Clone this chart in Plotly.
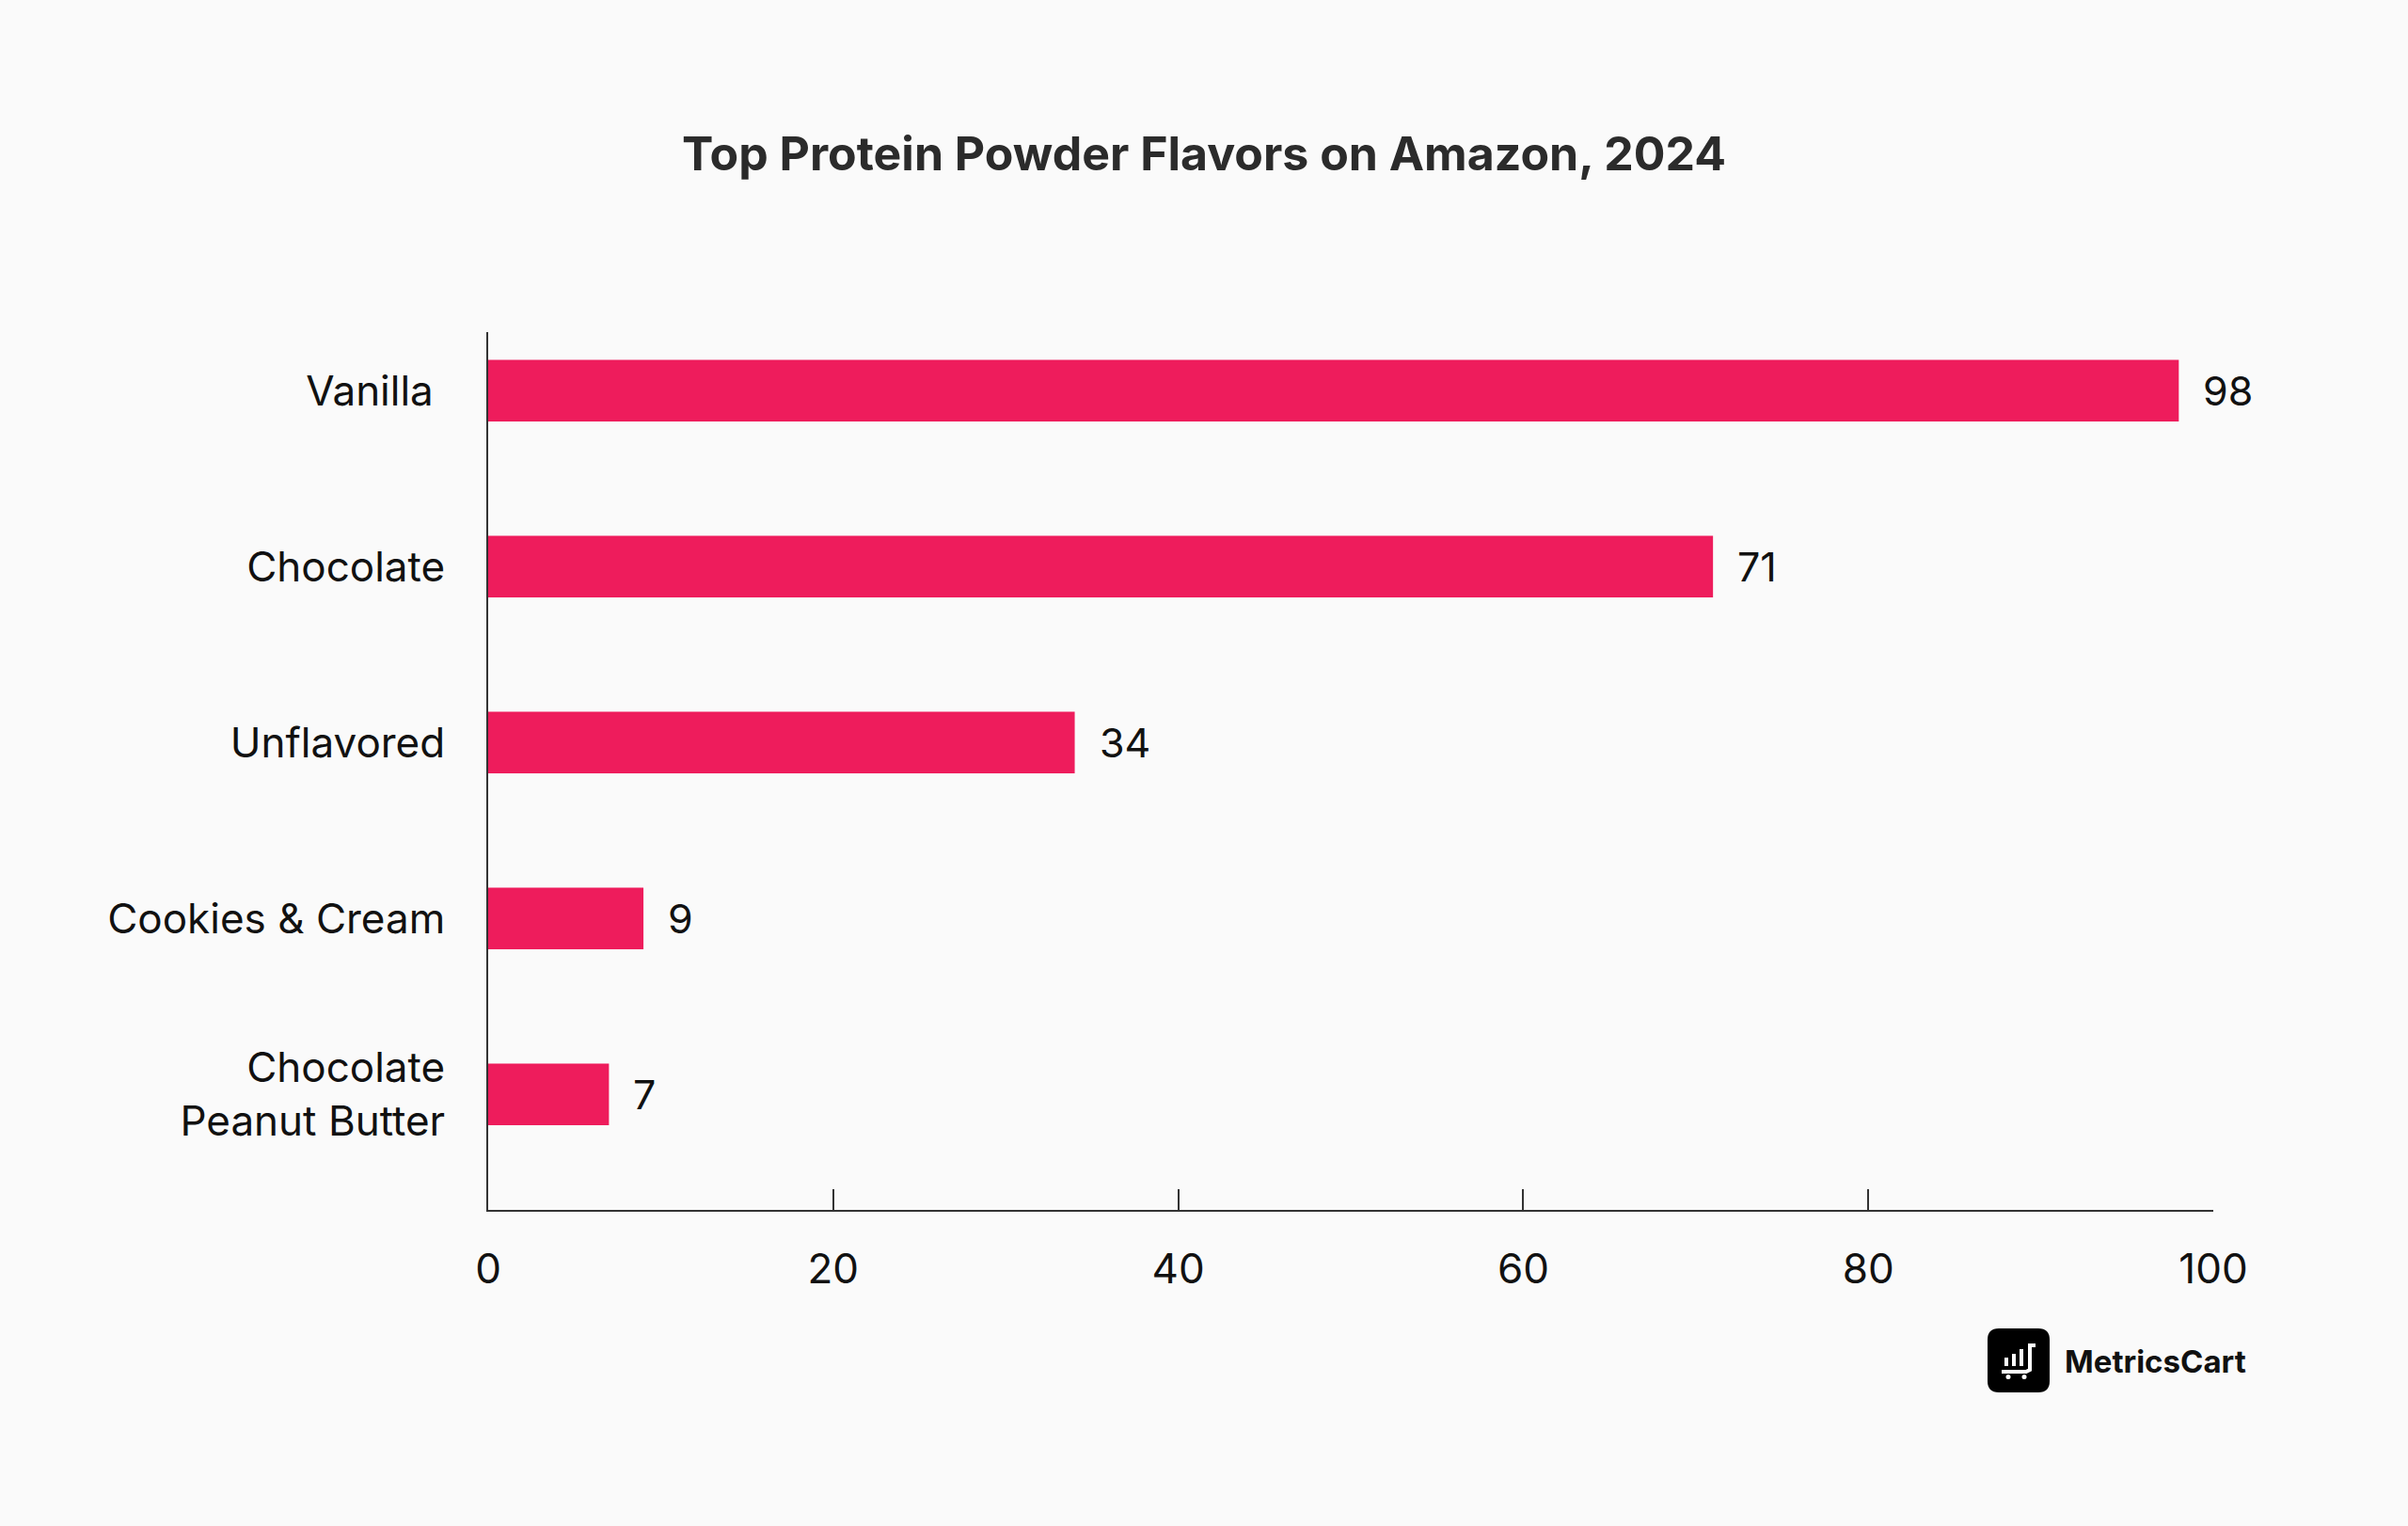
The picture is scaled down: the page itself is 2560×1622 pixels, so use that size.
import plotly.graph_objects as go

categories = ["Vanilla ", "Chocolate", "Unflavored", "Cookies & Cream", "Chocolate<br>Peanut Butter"]
values = [98, 71, 34, 9, 7]
x_ticks = [0, 20, 40, 60, 80, 100]

W, H = 2560, 1622
L, R, T, B = 519, 207, 353, 336
PW, PH = W - L - R, H - T - B

def px(x):
    return (x - L) / PW

def py(y):
    return (H - B - y) / PH

BAR = "#EE1C5C"
FONT = "Inter"

fig = go.Figure()
fig.add_trace(go.Bar(
    x=values, y=categories, orientation="h",
    marker=dict(color=BAR, line=dict(width=0)),
    width=0.35, hoverinfo="skip",
))

for v, c in zip(values, categories):
    fig.add_annotation(x=v, y=c, text=str(v), showarrow=False,
                       xanchor="left", yanchor="middle", xshift=24,
                       font=dict(family=FONT, size=43, color="#111111"))

shapes = []
# logo box
shapes.append(dict(type="path", xref="paper", yref="paper",
    path="M {x0},{y0} L {x1},{y0} Q {x2},{y0} {x2},{y3} L {x2},{y4} Q {x2},{y5} {x1},{y5} L {x0},{y5} Q {xa},{y5} {xa},{y4} L {xa},{y3} Q {xa},{y0} {x0},{y0} Z".format(
        x0=px(2125), x1=px(2167), x2=px(2179), xa=px(2113),
        y0=py(1412), y3=py(1424), y4=py(1468), y5=py(1480)),
    fillcolor="#000000", line=dict(width=0)))
# icon bars
for bx, top in [(2133, 1443), (2141, 1439), (2149, 1434)]:
    shapes.append(dict(type="line", xref="paper", yref="paper",
        x0=px(bx), x1=px(bx), y0=py(1452), y1=py(top),
        line=dict(color="white", width=4)))
# handle and base
shapes.append(dict(type="path", xref="paper", yref="paper",
    path="M {a},{b} L {c},{b} L {c},{d} L {e},{f} L {g},{f}".format(
        a=px(2164), b=py(1430), c=px(2158), d=py(1456), e=px(2154), f=py(1458), g=px(2128)),
    line=dict(color="white", width=4)))
for wx in [2135, 2152]:
    shapes.append(dict(type="circle", xref="paper", yref="paper",
        x0=px(wx - 2.5), x1=px(wx + 2.5), y0=py(1461), y1=py(1466),
        fillcolor="white", line=dict(width=0)))

fig.add_annotation(xref="paper", yref="paper", x=px(2193), y=py(1447),
                   text="<b>MetricsCart</b>", showarrow=False, xanchor="left", yanchor="middle",
                   font=dict(family=FONT, size=33, color="#111111"))

fig.update_layout(
    width=W, height=H,
    paper_bgcolor="#FAFAFA", plot_bgcolor="#FAFAFA",
    margin=dict(l=L, r=R, t=T, b=B, autoexpand=False),
    showlegend=False,
    shapes=shapes,
    title=dict(text="<b>Top Protein Powder Flavors on Amazon, 2024</b>",
               x=0.5, xanchor="center", y=1 - 163 / H, yanchor="middle",
               yref="container", font=dict(family=FONT, size=50, color="#2B2B2B")),
    font=dict(family=FONT, size=44, color="#111111"),
)
fig.update_xaxes(range=[0, 100], tickvals=x_ticks, ticktext=[str(t) for t in x_ticks],
                 showgrid=False, zeroline=False, showline=True, linecolor="#333333", linewidth=2,
                 ticks="inside", ticklen=22, tickwidth=2, tickcolor="#333333",
                 ticklabelstandoff=23, tickfont=dict(family=FONT, size=44, color="#111111"))
fig.update_yaxes(categoryorder="array", categoryarray=categories,
                 range=[len(categories) - 1 + 0.656, -0.333],
                 showgrid=False, zeroline=False, showline=True, linecolor="#333333", linewidth=2,
                 ticks="", ticklabelstandoff=35, tickfont=dict(family=FONT, size=44, color="#111111"))

fig.write_html("out.html", config={"displayModeBar": False},
               post_script="document.body.style.margin='0';document.body.style.background='#FAFAFA';")
